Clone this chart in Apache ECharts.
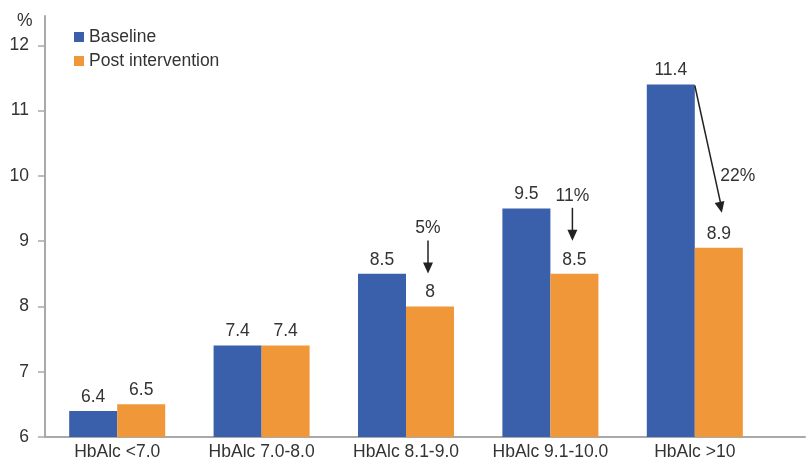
<!DOCTYPE html>
<html>
<head>
<meta charset="utf-8">
<script src="https://cdn.jsdelivr.net/npm/echarts@6/dist/echarts.min.js"></script>
<style>
  html, body { margin: 0; padding: 0; background: #fff; }
  #chart { width: 808px; height: 468px; }
</style>
</head>
<body>
<div id="chart"></div>
<script>
// HbA1c groups and mean values (%) before and after the intervention
const categories = ['HbAlc <7.0', 'HbAlc 7.0-8.0', 'HbAlc 8.1-9.0', 'HbAlc 9.1-10.0', 'HbAlc >10'];
const baseline = [6.4, 7.4, 8.5, 9.5, 11.4];
const postIntervention = [6.5, 7.4, 8, 8.5, 8.9];
const reductionLabels = ['', '', '5%', '11%', '22%'];
const yTicks = [6, 7, 8, 9, 10, 11, 12];

const FONT = '"Liberation Sans", Arial, Helvetica, sans-serif';
const FS = 17.5;
const TEXT = '#333333';
const AXIS_GREY = '#a9a9a9';
const BLUE = '#3a5fab';
const ORANGE = '#f0973a';
const ARROW = '#222222';
const CATEGORY_GAP = 0.335;

const chart = echarts.init(document.getElementById('chart'), null, { renderer: 'canvas' });

const barLabel = {
  show: true,
  position: 'top',
  distance: 5,
  color: TEXT,
  fontSize: FS,
  fontFamily: FONT
};

chart.setOption({
  animation: false,
  backgroundColor: '#ffffff',
  textStyle: { fontFamily: FONT },
  title: {
    text: '%',
    left: 12,
    top: 7,
    textStyle: { fontSize: FS, fontWeight: 'normal', color: TEXT, fontFamily: FONT }
  },
  legend: {
    orient: 'vertical',
    left: 69,
    top: 23,
    icon: 'rect',
    itemWidth: 10,
    itemHeight: 10,
    itemGap: 6,
    textStyle: { fontSize: FS, color: TEXT, fontFamily: FONT, lineHeight: 16 },
    data: ['Baseline', 'Post intervention']
  },
  grid: [
    { left: 45, right: 41, top: 16, bottom: 31 },
    { left: 45, right: 3, top: 16, bottom: 31 }
  ],
  xAxis: [
    {
      type: 'category',
      gridIndex: 0,
      data: categories,
      axisLine: { lineStyle: { color: AXIS_GREY, width: 2 } },
      axisTick: { length: 8, lineStyle: { color: AXIS_GREY, width: 1.5 } },
      axisLabel: { interval: 0, hideOverlap: false, color: TEXT, fontSize: FS, fontFamily: FONT, margin: 6 }
    },
    {
      // continues the baseline past the last group
      type: 'value',
      gridIndex: 1,
      min: 0,
      max: 1,
      axisLine: { show: true, onZero: false, lineStyle: { color: AXIS_GREY, width: 2 } },
      axisTick: { show: false },
      axisLabel: { show: false },
      splitLine: { show: false }
    }
  ],
  yAxis: [
    {
      type: 'value',
      gridIndex: 0,
      min: 6,
      max: 12.45,
      axisLine: { show: true, lineStyle: { color: AXIS_GREY, width: 2 } },
      axisTick: { show: true, length: 7, customValues: yTicks, lineStyle: { color: AXIS_GREY, width: 1.5 } },
      axisLabel: { customValues: yTicks, color: TEXT, fontSize: FS, fontFamily: FONT, margin: 16 },
      splitLine: { show: false }
    },
    { type: 'value', gridIndex: 1, show: false, min: 0, max: 1 }
  ],
  series: [
    {
      name: 'Baseline',
      type: 'bar',
      xAxisIndex: 0,
      yAxisIndex: 0,
      data: baseline,
      barGap: 0,
      barCategoryGap: (CATEGORY_GAP * 100) + '%',
      itemStyle: { color: BLUE },
      label: barLabel
    },
    {
      name: 'Post intervention',
      type: 'bar',
      xAxisIndex: 0,
      yAxisIndex: 0,
      data: postIntervention,
      barGap: 0,
      barCategoryGap: (CATEGORY_GAP * 100) + '%',
      itemStyle: { color: ORANGE },
      label: barLabel
    }
  ]
});

// Reduction arrows, placed from the bar geometry of each group
function toPx(i, v) {
  return chart.convertToPixel({ xAxisIndex: 0, yAxisIndex: 0 }, [i, v]);
}
const band = toPx(1, 6)[0] - toPx(0, 6)[0];
const barW = band * (1 - CATEGORY_GAP) / 2;

function arrowHead(x1, y1, x2, y2) {
  const len = 11, half = 5;
  const dx = x2 - x1, dy = y2 - y1;
  const d = Math.sqrt(dx * dx + dy * dy);
  const ux = dx / d, uy = dy / d;
  const bx = x2 - ux * len, by = y2 - uy * len;
  return {
    type: 'polygon',
    shape: { points: [[x2, y2], [bx - uy * half, by + ux * half], [bx + uy * half, by - ux * half]] },
    style: { fill: ARROW },
    z: 10
  };
}

const graphics = [];
reductionLabels.forEach(function (txt, i) {
  if (!txt) return;
  const center = toPx(i, 6)[0];
  const orangeX = center + barW / 2;
  const orangeTop = toPx(i, postIntervention[i])[1];
  const tipY = orangeTop - 33;
  const diagonal = i === categories.length - 1;
  let x1, y1, x2, y2, tx, ty;
  if (diagonal) {
    x1 = center;
    y1 = toPx(i, baseline[i])[1] + 1;
    x2 = orangeX + 3;
    y2 = orangeTop - 35;
    const f = 0.7;
    tx = x1 + (x2 - x1) * f + 24;
    ty = y1 + (y2 - y1) * f + 2;
  } else {
    x1 = orangeX - 2;
    x2 = orangeX - 2;
    y2 = tipY;
    y1 = tipY - 33;
    tx = x1;
    ty = y1 - 12;
  }
  graphics.push({
    type: 'line',
    shape: { x1: x1, y1: y1, x2: x2, y2: y2 - 4 },
    style: { stroke: ARROW, lineWidth: 1.5 },
    z: 10
  });
  graphics.push(arrowHead(x1, y1, x2, y2));
  graphics.push({
    type: 'text',
    x: tx,
    y: ty,
    style: {
      text: txt,
      fill: TEXT,
      font: FS + 'px ' + FONT,
      textAlign: 'center',
      textVerticalAlign: 'middle'
    },
    z: 10
  });
});
chart.setOption({ graphic: graphics });
</script>
</body>
</html>
